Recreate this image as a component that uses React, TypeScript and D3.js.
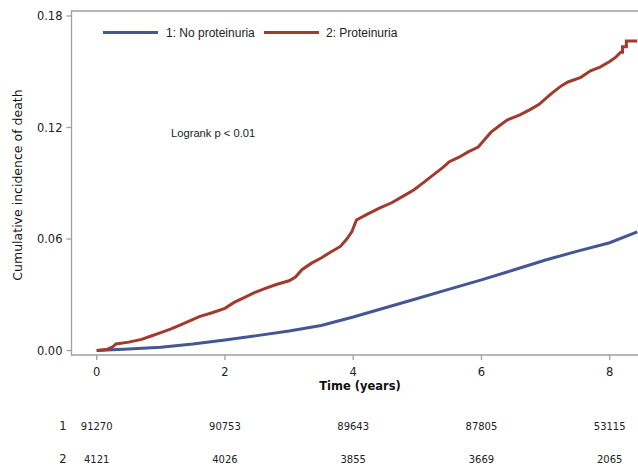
import React, { useRef, useEffect } from 'react';
import * as d3 from 'd3';

// no proteinuria (group 1) - smooth curve
const blueTimes = [0, 0.5, 1.0, 1.5, 2.0, 2.5, 3.0, 3.5, 4.0, 4.5, 5.0, 5.5, 6.0, 6.5, 7.0, 7.5, 8.0, 8.43];
const blueValues = [0, 0.0008, 0.0018, 0.0035, 0.0057, 0.008, 0.0105, 0.0135, 0.018, 0.023, 0.028, 0.033, 0.038, 0.0433, 0.0487, 0.0535, 0.058, 0.0638];

// proteinuria (group 2)
const redTimes = [0, 0.15, 0.25, 0.3, 0.5, 0.7, 0.85, 1.0, 1.15, 1.3, 1.45, 1.6, 1.8, 2.0, 2.15, 2.3, 2.45, 2.6, 2.8, 3.0, 3.1, 3.2, 3.35, 3.5, 3.65, 3.8, 3.9, 3.98, 4.05, 4.2, 4.4, 4.6, 4.8, 4.95, 5.1, 5.25, 5.4, 5.5, 5.65, 5.8, 5.95, 6.05, 6.15, 6.3, 6.4, 6.6, 6.75, 6.9, 7.0, 7.1, 7.25, 7.35, 7.55, 7.7, 7.85, 8.0, 8.1, 8.17, 8.2, 8.2, 8.26, 8.26, 8.43];
const redValues = [0, 0.0005, 0.002, 0.0035, 0.0045, 0.006, 0.0078, 0.0096, 0.0115, 0.0137, 0.016, 0.0182, 0.0203, 0.0227, 0.026, 0.0285, 0.031, 0.033, 0.0355, 0.0375, 0.0395, 0.0435, 0.047, 0.0498, 0.053, 0.056, 0.06, 0.064, 0.0702, 0.073, 0.0765, 0.0795, 0.0835, 0.0865, 0.0905, 0.0945, 0.0985, 0.1016, 0.104, 0.107, 0.1095, 0.1135, 0.1175, 0.1215, 0.124, 0.1268, 0.1295, 0.1325, 0.1355, 0.1385, 0.1425, 0.1445, 0.147, 0.1505, 0.1525, 0.1555, 0.158, 0.1605, 0.1605, 0.1635, 0.1635, 0.1665, 0.1665];

const xTicks = [0, 2, 4, 6, 8];
const yTicks = [0, 0.06, 0.12, 0.18];
const groupLabels = ['1: No proteinuria', '2: Proteinuria'];
const riskRowNames = ['1', '2'];
const riskGroup1 = [91270, 90753, 89643, 87805, 53115];
const riskGroup2 = [4121, 4026, 3855, 3669, 2065];

const BLUE = '#445694';
const RED = '#A23A2E';
const AXIS = '#a0a0a0';
const FONT = '"DejaVu Sans", Verdana, sans-serif';
const LFONT = '"Liberation Sans", Arial, sans-serif';

function App() {
  const canvas = useRef<HTMLDivElement>(null);

  useEffect(() => {
    const W = 638, H = 466;
    const left = 71.5, top = 11, bottom = 355, right = 640;

    d3.select(canvas.current).select('svg').remove();
    const svg = d3.select(canvas.current)
      .append('svg')
      .attr('width', W)
      .attr('height', H)
      .style('position', 'absolute')
      .style('left', 0)
      .style('top', 0)
      .style('background', '#fff');

    const x = d3.scaleLinear().domain([0, 8]).range([96.7, 609.7]);
    const y = d3.scaleLinear().domain([0, 0.18]).range([350.5, 16]);

    // frame
    svg.append('path')
      .attr('d', `M${right},${top}H${left}V${bottom}H${right}`)
      .attr('fill', 'none')
      .attr('stroke', AXIS)
      .attr('stroke-width', 1.3);

    // y axis ticks
    const yg = svg.append('g').attr('transform', `translate(${left},0)`);
    yg.selectAll('line').data(yTicks).enter().append('line')
      .attr('x1', -5).attr('x2', 0)
      .attr('y1', d => y(d)).attr('y2', d => y(d))
      .attr('stroke', AXIS).attr('stroke-width', 1.3);
    yg.selectAll('text').data(yTicks).enter().append('text')
      .attr('x', -9).attr('y', d => y(d))
      .attr('dy', '0.35em')
      .attr('text-anchor', 'end')
      .style('font-family', FONT).style('font-size', '11.5px').attr('fill', '#222')
      .text(d => d3.format('.2f')(d));

    svg.append('text')
      .attr('transform', 'translate(22,185) rotate(-90)')
      .attr('text-anchor', 'middle')
      .style('font-family', FONT).style('font-size', '12.5px').attr('fill', '#111')
      .text('Cumulative incidence of death');

    // x axis ticks
    const xg = svg.append('g').attr('transform', `translate(0,${bottom})`);
    xg.selectAll('line').data(xTicks).enter().append('line')
      .attr('x1', d => x(d)).attr('x2', d => x(d))
      .attr('y1', 0).attr('y2', 5)
      .attr('stroke', AXIS).attr('stroke-width', 1.3);
    xg.selectAll('text').data(xTicks).enter().append('text')
      .attr('x', d => x(d)).attr('y', 17)
      .attr('dy', '0.35em')
      .attr('text-anchor', 'middle')
      .style('font-family', FONT).style('font-size', '11.5px').attr('fill', '#222')
      .text(d => d);

    svg.append('text')
      .attr('x', 360).attr('y', 390)
      .attr('text-anchor', 'middle')
      .style('font-family', FONT).style('font-size', '11.5px').style('font-weight', 'bold').attr('fill', '#111')
      .text('Time (years)');

    // curves
    const plot = svg.append('g');
    svg.append('clipPath').attr('id', 'clip')
      .append('rect').attr('x', left).attr('y', top).attr('width', W - left).attr('height', bottom - top);
    plot.attr('clip-path', 'url(#clip)');

    const line = d3.line<[number, number]>()
      .x(d => x(d[0]))
      .y(d => y(d[1]))
      .curve(d3.curveLinear);

    const blueData = blueTimes.map((t, i) => [t, blueValues[i]] as [number, number]);
    const redData = redTimes.map((t, i) => [t, redValues[i]] as [number, number]);

    plot.append('path').datum(blueData)
      .attr('d', line)
      .attr('fill', 'none').attr('stroke', BLUE).attr('stroke-width', 3);
    plot.append('path').datum(redData)
      .attr('d', line)
      .attr('fill', 'none').attr('stroke', RED).attr('stroke-width', 3)
      .attr('stroke-linejoin', 'miter');

    // legend
    const legend = [
      { label: groupLabels[0], color: BLUE, x0: 103, x1: 158, tx: 166 },
      { label: groupLabels[1], color: RED, x0: 264, x1: 319, tx: 326 },
    ];
    legend.forEach(l => {
      svg.append('line')
        .attr('x1', l.x0).attr('x2', l.x1).attr('y1', 32.5).attr('y2', 32.5)
        .attr('stroke', l.color).attr('stroke-width', 3);
      svg.append('text')
        .attr('x', l.tx).attr('y', 33).attr('dy', '0.35em')
        .style('font-family', LFONT).style('font-size', '12px').attr('fill', '#222')
        .text(l.label);
    });

    svg.append('text')
      .attr('x', 171).attr('y', 133).attr('dy', '0.35em')
      .style('font-family', LFONT).style('font-size', '11.2px').attr('fill', '#222')
      .text('Logrank p < 0.01');

    // number at risk
    const rows = [riskGroup1, riskGroup2];
    const rowY = [426, 459];
    rows.forEach((vals, r) => {
      svg.append('text')
        .attr('x', 63).attr('y', rowY[r]).attr('dy', '0.35em')
        .attr('text-anchor', 'middle')
        .style('font-family', FONT).style('font-size', '11.5px').attr('fill', '#222')
        .text(riskRowNames[r]);
      svg.append('g').selectAll('text').data(vals).enter().append('text')
        .attr('x', (d, i) => x(xTicks[i]))
        .attr('y', rowY[r]).attr('dy', '0.35em')
        .attr('text-anchor', 'middle')
        .style('font-family', FONT).style('font-size', '10px').attr('fill', '#222')
        .text(d => d);
    });
  }, []);

  return <div ref={canvas}></div>;
}

export default App;
